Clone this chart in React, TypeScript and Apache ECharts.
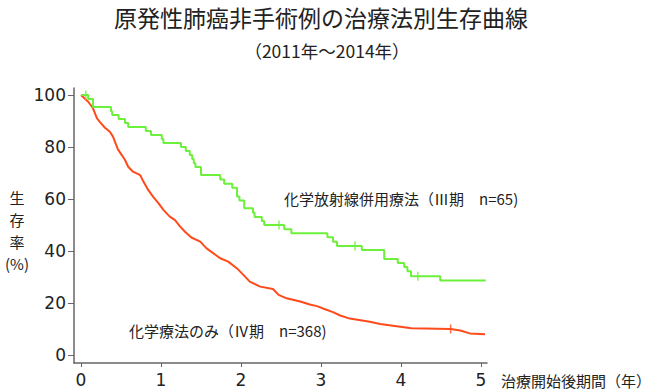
import React, { useEffect, useRef } from "react";
import * as echarts from "echarts";

// Chemoradiation (Stage III, n=65): drop times (years) and survival (%) after each drop
const greenT = [0, 0.09, 0.15, 0.375, 0.39, 0.47, 0.55, 0.59, 0.81, 0.875, 1.01, 1.03, 1.25, 1.31, 1.36, 1.39, 1.41, 1.43, 1.5, 1.74, 1.79, 1.89, 1.95, 1.98, 2.04, 2.15, 2.17, 2.26, 2.29, 2.54, 2.63, 3.08, 3.15, 3.2, 3.51, 3.79, 3.96, 4.04, 4.08, 4.125, 4.49, 5.06];
const greenS = [100, 98.5, 95.4, 93.8, 92.3, 90.8, 89.2, 87.7, 86.2, 84.6, 83.1, 81.5, 80, 78.5, 76.9, 75.4, 73.8, 72.3, 69.2, 67.5, 65.9, 64.3, 61.0, 59.4, 56.4, 54.7, 53.1, 51.5, 50, 48.4, 46.8, 45.3, 43.6, 41.9, 40.4, 36.9, 35.4, 33.8, 32.2, 30.3, 28.7, 28.7];
const greenCensorT = [0.06, 2.475, 3.425, 4.21];
const greenCensorS = [100, 50, 41.9, 30.3];

// Chemotherapy only (Stage IV, n=368)
const redT = [0, 0.09, 0.15, 0.2, 0.24, 0.3, 0.36, 0.4, 0.425, 0.46, 0.51, 0.55, 0.59, 0.65, 0.74, 0.78, 0.84, 0.9, 0.97, 1.03, 1.11, 1.175, 1.24, 1.3, 1.38, 1.49, 1.57, 1.74, 1.84, 1.95, 2.03, 2.11, 2.24, 2.4, 2.47, 2.57, 2.74, 2.86, 2.95, 3.05, 3.15, 3.24, 3.36, 3.61, 3.74, 3.99, 4.13, 4.62, 4.74, 4.86, 5.05];
const redS = [100, 97.4, 94.9, 91, 89.5, 87.4, 85.9, 84, 82, 79.2, 76.9, 75, 72.4, 70.5, 69.2, 66.7, 63.5, 60.9, 58.3, 55.8, 53.2, 51.9, 49.4, 47.4, 45.2, 43.6, 41, 37.2, 35.9, 33.3, 30.8, 28.2, 26.3, 25.4, 23.1, 21.8, 20.6, 19.4, 18.8, 17.6, 16.5, 15.2, 14, 12.8, 11.9, 10.9, 10.3, 10, 9.4, 8.3, 8];
const redCensorT = [4.62];
const redCensorS = [10];

const xTicks = [0, 1, 2, 3, 4, 5];
const yTicks = [0, 20, 40, 60, 80, 100];

const titleText = "原発性肺癌非手術例の治療法別生存曲線";
const subtitleText = "（2011年～2014年）";
const xName = "治療開始後期間（年）";
const yNameParts = ["生", "存", "率", "(%)"];
const greenLabel = "化学放射線併用療法（Ⅲ期　n=65)";
const redLabel = "化学療法のみ（Ⅳ期　n=368)";

const GREEN = "#6cf03c";
const RED = "#ff4a1c";
const JP = "'Noto Sans CJK JP', 'Noto Sans', sans-serif";
const NUM = "'DejaVu Sans', 'Noto Sans', sans-serif";

const zip = (a: number[], b: number[]) => a.map((v, i) => [v, b[i]]);

export default function App() {
  const ref = useRef<HTMLDivElement>(null);
  useEffect(() => {
    if (!ref.current) return;
    const chart = echarts.init(ref.current, undefined, { renderer: "svg" });
    const yNameY = [197, 219, 241, 263];
    chart.setOption({
      animation: false,
      backgroundColor: "#ffffff",
      grid: { left: 74, right: 173, top: 88, bottom: 27, containLabel: false },
      xAxis: {
        type: "value",
        min: -0.0875,
        max: 5.075,
        splitLine: { show: false },
        axisLine: { show: true, onZero: false, lineStyle: { color: "#666", width: 1.5 } },
        axisTick: { show: true, customValues: xTicks, length: 4, lineStyle: { color: "#666" } },
        axisLabel: { customValues: xTicks, color: "#222", fontSize: 17, fontFamily: NUM, margin: 8 },
      },
      yAxis: {
        type: "value",
        min: -3.08,
        max: 102.7,
        splitLine: { show: false },
        axisLine: { show: true, onZero: false, lineStyle: { color: "#666", width: 1.5 } },
        axisTick: { show: true, customValues: yTicks, length: 6, lineStyle: { color: "#666" } },
        axisLabel: { customValues: yTicks, color: "#222", fontSize: 17, fontFamily: NUM, margin: 8 },
      },
      series: [
        {
          type: "line",
          step: "end",
          data: zip(greenT, greenS),
          showSymbol: false,
          lineStyle: { color: GREEN, width: 2 },
          itemStyle: { color: GREEN },
          z: 3,
        },
        {
          type: "line",
          data: zip(redT, redS),
          showSymbol: false,
          lineStyle: { color: RED, width: 2 },
          itemStyle: { color: RED },
          z: 2,
        },
        {
          type: "scatter",
          data: zip(greenCensorT, greenCensorS),
          symbol: "rect",
          symbolSize: [1.5, 9],
          itemStyle: { color: GREEN },
          z: 4,
        },
        {
          type: "scatter",
          data: zip(redCensorT, redCensorS),
          symbol: "rect",
          symbolSize: [1.5, 9],
          itemStyle: { color: RED },
          z: 4,
        },
      ],
      graphic: [
        { type: "text", x: 321, y: 17, style: { text: titleText, fontSize: 23, fontFamily: JP, fill: "#222", align: "center", verticalAlign: "middle" } },
        { type: "text", x: 327, y: 50, style: { text: subtitleText, fontSize: 17.5, fontFamily: JP, fill: "#222", align: "center", verticalAlign: "middle" } },
        ...yNameParts.map((t, i) => ({
          type: "text",
          x: 17,
          y: yNameY[i],
          style: { text: t, fontSize: 15, fontFamily: JP, fill: "#222", align: "center", verticalAlign: "middle" },
        })),
        { type: "text", x: 501, y: 380, style: { text: xName, fontSize: 15, fontFamily: JP, fill: "#222", align: "left", verticalAlign: "middle" } },
        { type: "text", x: 284, y: 198, style: { text: greenLabel, fontSize: 15, fontFamily: JP, fill: "#222", align: "left", verticalAlign: "middle" } },
        { type: "text", x: 129, y: 330, style: { text: redLabel, fontSize: 15, fontFamily: JP, fill: "#222", align: "left", verticalAlign: "middle" } },
      ],
    });
    return () => chart.dispose();
  }, []);
  return <div ref={ref} style={{ position: "absolute", left: 0, top: 0, width: 660, height: 390 }} />;
}
